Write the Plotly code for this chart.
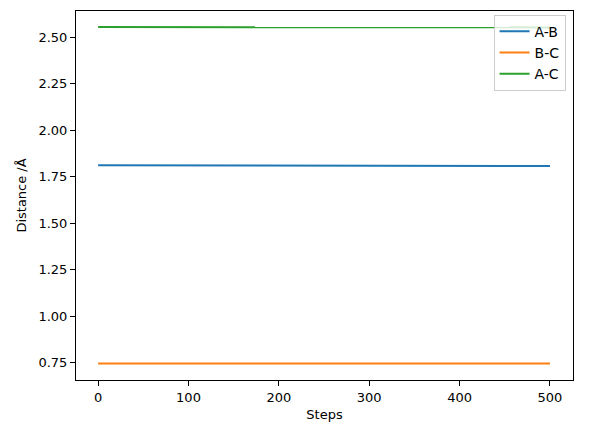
import plotly.graph_objects as go

steps = [0, 100, 200, 300, 400, 500]
ab = [1.811, 1.810, 1.809, 1.808, 1.808, 1.807]
bc = [0.745, 0.745, 0.745, 0.745, 0.745, 0.745]
ac = [2.554, 2.554, 2.553, 2.553, 2.552, 2.552]
names = ["A-B", "B-C", "A-C"]
colors = ["#1f77b4", "#ff7f0e", "#2ca02c"]

fig = go.Figure()
for name, ys, c in zip(names, [ab, bc, ac], colors):
    fig.add_trace(go.Scatter(x=steps, y=ys, mode="lines", name=name,
                             line=dict(color=c, width=2)))

axis_common = dict(showline=True, linecolor="black", linewidth=1, mirror=True,
                   ticks="outside", ticklen=5, tickcolor="black", showgrid=False,
                   zeroline=False, automargin=False, tickfont=dict(size=13, color="black"))
fig.update_layout(
    width=608, height=428,
    margin=dict(l=76, r=35, t=11, b=48),
    plot_bgcolor="white", paper_bgcolor="white",
    font=dict(family="DejaVu Sans", size=13, color="black"),
    xaxis=dict(range=[-24.5, 525.5], tickvals=[0, 100, 200, 300, 400, 500],
               title=dict(text="Steps", standoff=6, font=dict(size=13)), **axis_common),
    yaxis=dict(range=[0.657, 2.64], tickvals=[0.75, 1.0, 1.25, 1.5, 1.75, 2.0, 2.25, 2.5],
               ticktext=["0.75", "1.00", "1.25", "1.50", "1.75", "2.00", "2.25", "2.50"],
               title=dict(text="Distance /Å", standoff=8, font=dict(size=13)), **axis_common),
    legend=dict(x=0.985, y=0.99, xanchor="right", yanchor="top",
                bgcolor="rgba(255,255,255,0.8)", bordercolor="#cccccc", borderwidth=1,
                font=dict(size=14)),
)
fig.write_html("out.html", config={"displayModeBar": False})

with open("out.html", encoding="utf-8") as f:
    html = f.read()
html = html.replace("<head>", "<head><style>html,body{margin:0;padding:0;overflow:hidden}</style>", 1)
with open("out.html", "w", encoding="utf-8") as f:
    f.write(html)
